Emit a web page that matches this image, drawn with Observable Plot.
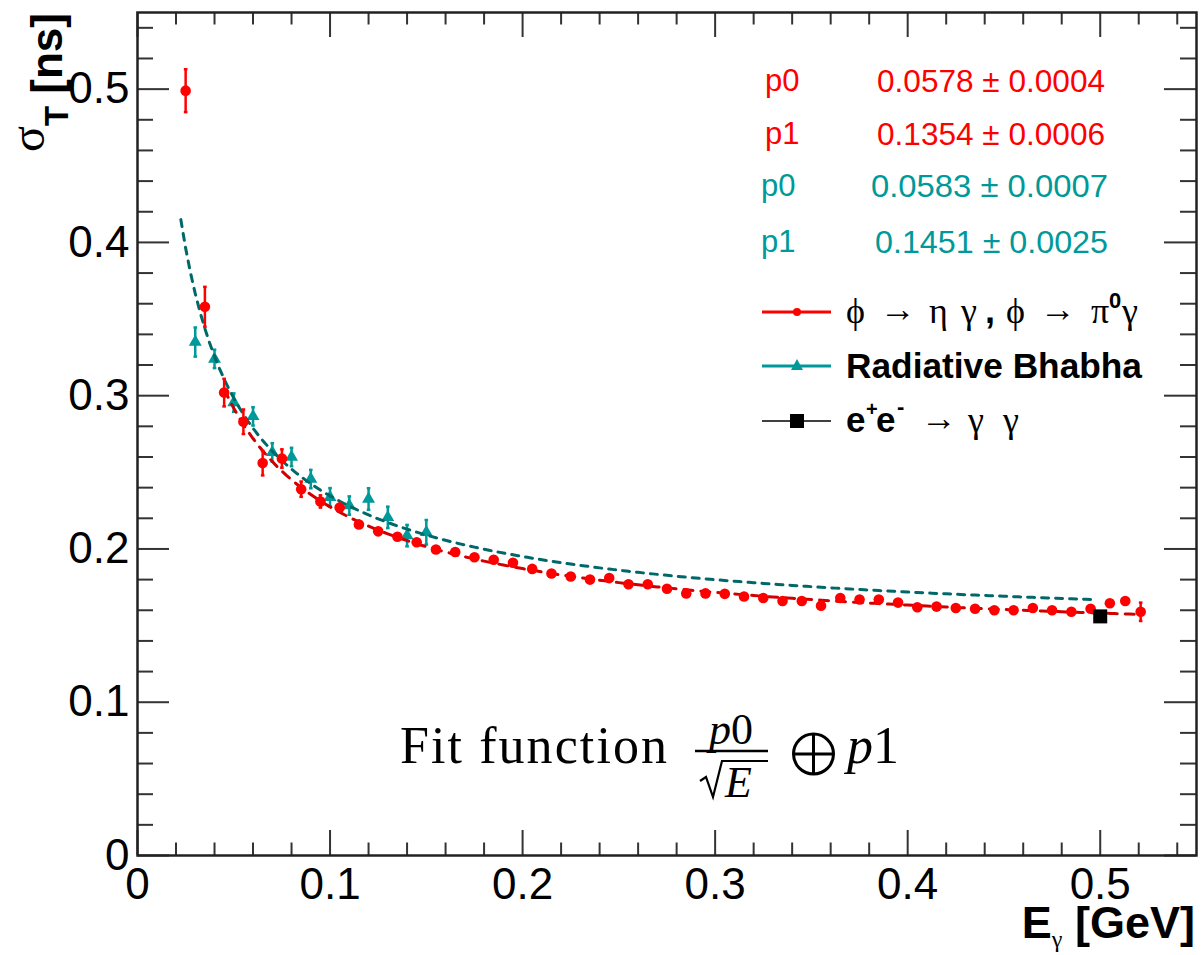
<!DOCTYPE html>
<html><head><meta charset="utf-8">
<script src="https://cdn.jsdelivr.net/npm/d3@7"></script>
<script src="https://cdn.jsdelivr.net/npm/@observablehq/plot@0.6"></script>
<style>
body{margin:0;background:#fff;}
#wrap{position:relative;width:1204px;height:955px;}
#wrap svg{position:absolute;left:0;top:0;}
</style></head><body><div id="wrap"></div>
<script>
// ---- data ----
const redE = [0.025,0.035,0.045,0.055,0.065,0.075,0.085,0.095,0.105,0.115,0.125,0.135,0.145,0.155,0.165,0.175,0.185,0.195,0.205,0.215,0.225,0.235,0.245,0.255,0.265,0.275,0.285,0.295,0.305,0.315,0.325,0.335,0.345,0.355,0.365,0.375,0.385,0.395,0.405,0.415,0.425,0.435,0.445,0.455,0.465,0.475,0.485,0.495,0.505,0.513,0.521];
const redSigma = [0.499,0.358,0.302,0.283,0.256,0.259,0.239,0.231,0.227,0.216,0.2115,0.208,0.2044,0.1996,0.198,0.1946,0.193,0.191,0.187,0.184,0.182,0.180,0.181,0.177,0.177,0.174,0.171,0.171,0.1707,0.169,0.168,0.166,0.166,0.163,0.168,0.167,0.167,0.165,0.162,0.1624,0.1615,0.161,0.160,0.160,0.1615,0.160,0.159,0.161,0.1646,0.166,0.159];
const redErr = [0.014,0.013,0.009,0.008,0.008,0.006,0.005,0.004,0.003,0.003,0.002,0.002,0.002,0.002,0.002,0.002,0.002,0.002,0.002,0.002,0.002,0.002,0.002,0.002,0.002,0.002,0.002,0.002,0.002,0.002,0.002,0.002,0.002,0.002,0.002,0.002,0.002,0.002,0.002,0.002,0.002,0.002,0.002,0.002,0.002,0.002,0.002,0.002,0.002,0.002,0.006];
const tealE = [0.03,0.04,0.05,0.06,0.07,0.08,0.09,0.10,0.11,0.12,0.13,0.14,0.15];
const tealSigma = [0.335,0.324,0.2955,0.2865,0.263,0.26,0.2456,0.2337,0.2283,0.2326,0.2206,0.2087,0.2109];
const tealErr = [0.0095,0.006,0.006,0.006,0.006,0.006,0.006,0.006,0.006,0.007,0.007,0.007,0.008];
const ggE = [0.5];
const ggSigma = [0.156];
// fit parameters (from the chart's box)
const redP0 = 0.0578, redP1 = 0.1354;
const tealP0 = 0.0583, tealP1 = 0.1451;
const redFitRange = [0.045, 0.52];
const tealFitRange = [0.0225, 0.495];
// axis ticks
const xTicks = [0, 0.1, 0.2, 0.3, 0.4, 0.5];
const yTicks = [0, 0.1, 0.2, 0.3, 0.4, 0.5];
const minorTicks = [0.02,0.04,0.06,0.08,0.12,0.14,0.16,0.18,0.22,0.24,0.26,0.28,0.32,0.34,0.36,0.38,0.42,0.44,0.46,0.48,0.52,0.54];

// ---- layout ----
const W = 1204, H = 955;
const mL = 137, mR = 8, mT = 12, mB = 100;
const fw = W - mL - mR, fh = H - mT - mB;
const RED = "#ff0000", TEAL = "#009999", TEALFIT = "#006868", REDFIT = "#d00000";

const red = redE.map((E, i) => ({E, s: redSigma[i], e: redErr[i]}));
const teal = tealE.map((E, i) => ({E, s: tealSigma[i], e: tealErr[i]}));
const gg = ggE.map((E, i) => ({E, s: ggSigma[i]}));
function fitCurve(p0, p1, [a, b]) {
  const pts = d3.range(a, b, 0.0025).concat([b]);
  return pts.map(E => ({E, s: Math.hypot(p0 / Math.sqrt(E), p1)}));
}
const redFit = fitCurve(redP0, redP1, redFitRange);
const tealFit = fitCurve(tealP0, tealP1, tealFitRange);

const cap = {draw(ctx, size) { const r = Math.sqrt(size / Math.PI); ctx.moveTo(-r, 0); ctx.lineTo(r, 0); }};
const fmt = d => d === 0 ? "0" : d.toFixed(1);
const TK = "#333";

const plot = Plot.plot({
  width: W, height: H,
  marginLeft: mL, marginRight: mR, marginTop: mT, marginBottom: mB,
  style: {fontFamily: "'Liberation Sans', Arial, Helvetica, sans-serif", background: "white", color: "black"},
  x: {domain: [0, 0.55], label: null},
  y: {domain: [0, 0.55], label: null},
  marks: [
    Plot.axisX({ticks: xTicks, tickSize: 0, tickPadding: 12, fontSize: 44, tickFormat: fmt, label: null, fill: "black"}),
    Plot.axisY({ticks: yTicks, tickSize: 0, tickPadding: 8, fontSize: 44, tickFormat: fmt, label: null, fill: "black"}),
    // inward ticks, ROOT style, on all four sides
    Plot.tickX(xTicks, {x: d => d, insetTop: fh - 25, stroke: TK, strokeWidth: 2}),
    Plot.tickX(xTicks, {x: d => d, insetBottom: fh - 25, stroke: TK, strokeWidth: 2}),
    Plot.tickX(minorTicks, {x: d => d, insetTop: fh - 12.5, stroke: TK, strokeWidth: 2}),
    Plot.tickX(minorTicks, {x: d => d, insetBottom: fh - 12.5, stroke: TK, strokeWidth: 2}),
    Plot.tickY(yTicks, {y: d => d, insetRight: fw - 32, stroke: TK, strokeWidth: 2}),
    Plot.tickY(yTicks, {y: d => d, insetLeft: fw - 32, stroke: TK, strokeWidth: 2}),
    Plot.tickY(minorTicks, {y: d => d, insetRight: fw - 16, stroke: TK, strokeWidth: 2}),
    Plot.tickY(minorTicks, {y: d => d, insetLeft: fw - 16, stroke: TK, strokeWidth: 2}),
    Plot.frame({stroke: "#222", strokeWidth: 2.5}),
    // radiative Bhabha
    Plot.ruleX(teal, {x: "E", y1: d => d.s - d.e, y2: d => d.s + d.e, stroke: TEAL, strokeWidth: 2.5}),
    Plot.dot(teal, {x: "E", y: d => d.s - d.e, symbol: cap, r: 1.8, stroke: TEAL, strokeWidth: 2.5}),
    Plot.dot(teal, {x: "E", y: d => d.s + d.e, symbol: cap, r: 1.8, stroke: TEAL, strokeWidth: 2.5}),
    Plot.dot(teal, {x: "E", y: "s", symbol: "triangle", r: 4.8, fill: TEAL}),
    // fits
    Plot.line(tealFit, {x: "E", y: "s", stroke: TEALFIT, strokeWidth: 3, strokeDasharray: "7,7"}),
    Plot.line(redFit, {x: "E", y: "s", stroke: REDFIT, strokeWidth: 3, strokeDasharray: "9,8"}),
    // phi radiative decays
    Plot.ruleX(red, {x: "E", y1: d => d.s - d.e, y2: d => d.s + d.e, stroke: RED, strokeWidth: 2.5}),
    Plot.dot(red.filter(d => d.e > 0.003), {x: "E", y: d => d.s - d.e, symbol: cap, r: 1.8, stroke: RED, strokeWidth: 2.5}),
    Plot.dot(red.filter(d => d.e > 0.003), {x: "E", y: d => d.s + d.e, symbol: cap, r: 1.8, stroke: RED, strokeWidth: 2.5}),
    Plot.dot(red, {x: "E", y: "s", r: 5.3, fill: RED}),
    // e+e- -> gamma gamma
    Plot.dot(gg, {x: "E", y: "s", symbol: "square", r: 7.9, fill: "black"})
  ]
});
const wrap = document.getElementById("wrap");
wrap.appendChild(plot);

// ---- annotations overlay ----
const SANS = "'Liberation Sans', Arial, Helvetica, sans-serif";
const SERIF = "'Liberation Serif', 'DejaVu Serif', 'Times New Roman', serif";
const ov = `
<svg xmlns="http://www.w3.org/2000/svg" width="${W}" height="${H}" font-family="${SANS}">
  <!-- axis titles -->
  <text transform="translate(62,13) rotate(-90)" text-anchor="end" font-weight="bold" font-size="44" fill="black"><tspan font-family="${SERIF}" font-weight="normal" font-size="48" dy="-18">σ</tspan><tspan font-size="33" dy="24">T</tspan><tspan dy="-6"> [ns]</tspan></text>
  <text x="1195" y="938" text-anchor="end" font-weight="bold" font-size="45" fill="black">E<tspan font-family="${SERIF}" font-weight="normal" font-size="24" dy="9">γ</tspan><tspan dy="-9"> [GeV]</tspan></text>

  <!-- fit parameters -->
  <g font-size="31">
    <text x="765" y="91" fill="${RED}">p0</text>
    <text x="877" y="92" fill="${RED}" textLength="228" lengthAdjust="spacingAndGlyphs">${(redP0).toFixed(4)} ± 0.0004</text>
    <text x="765" y="144" fill="${RED}">p1</text>
    <text x="877" y="145" fill="${RED}" textLength="228" lengthAdjust="spacingAndGlyphs">${(redP1).toFixed(4)} ± 0.0006</text>
    <text x="761" y="196" fill="${TEAL}">p0</text>
    <text x="871" y="197" fill="${TEAL}" textLength="237" lengthAdjust="spacingAndGlyphs">${(tealP0).toFixed(4)} ± 0.0007</text>
    <text x="761" y="252" fill="${TEAL}">p1</text>
    <text x="875" y="253" fill="${TEAL}" textLength="233" lengthAdjust="spacingAndGlyphs">${(tealP1).toFixed(4)} ± 0.0025</text>
  </g>

  <!-- legend -->
  <line x1="762" x2="831" y1="312" y2="312" stroke="${RED}" stroke-width="3"/>
  <circle cx="797" cy="312" r="4" fill="${RED}"/>
  <line x1="762" x2="831" y1="366" y2="366" stroke="${TEAL}" stroke-width="3"/>
  <path d="M797,359 L803,370 L791,370 Z" fill="${TEAL}"/>
  <line x1="762" x2="831" y1="421" y2="421" stroke="black" stroke-width="1.5"/>
  <rect x="790" y="414" width="14" height="14" fill="black"/>

  <g font-family="${SERIF}" font-size="36" fill="black">
    <text x="846" y="323">ϕ</text>
    <text x="880" y="321">→</text>
    <text x="929" y="323">η</text>
    <text x="961" y="323">γ</text>
    <text x="985" y="323" font-family="${SANS}" font-weight="bold">,</text>
    <text x="1006" y="323">ϕ</text>
    <text x="1040" y="321">→</text>
    <text x="1091" y="323">π</text>
    <text x="1109" y="308" font-family="${SANS}" font-weight="bold" font-size="22">0</text>
    <text x="1122" y="323">γ</text>
  </g>
  <text x="846" y="378" font-weight="bold" font-size="35" fill="black" textLength="296" lengthAdjust="spacingAndGlyphs">Radiative Bhabha</text>
  <g fill="black">
    <text x="846" y="432" font-weight="bold" font-size="35">e</text>
    <text x="866" y="416" font-weight="bold" font-size="20">+</text>
    <text x="876" y="432" font-weight="bold" font-size="35">e</text>
    <text x="897" y="414" font-weight="bold" font-size="22">-</text>
    <text x="921" y="430" font-family="${SERIF}" font-size="36">→</text>
    <text x="968" y="432" font-family="${SERIF}" font-size="36">γ</text>
    <text x="1003" y="432" font-family="${SERIF}" font-size="36">γ</text>
  </g>

  <!-- fit function -->
  <g font-family="${SERIF}" fill="black">
    <text x="400" y="763" font-size="52" textLength="267" lengthAdjust="spacing">Fit function</text>
    <text x="731" y="744" font-size="44" text-anchor="middle"><tspan font-style="italic">p</tspan>0</text>
    <line x1="695" x2="768" y1="751" y2="751" stroke="black" stroke-width="2.5"/>
    <path d="M700,781 L706,777 L713,797 L722,761 L768,761" fill="none" stroke="black" stroke-width="2.2"/>
    <text x="725" y="797" font-size="44" font-style="italic">E</text>
    <circle cx="813.5" cy="754" r="20" fill="none" stroke="black" stroke-width="3"/>
    <line x1="813.5" x2="813.5" y1="734" y2="774" stroke="black" stroke-width="3"/>
    <line x1="793.5" x2="833.5" y1="754" y2="754" stroke="black" stroke-width="3"/>
    <text x="847" y="763" font-size="52"><tspan font-style="italic">p</tspan>1</text>
  </g>
</svg>`;
const holder = document.createElement("div");
holder.innerHTML = ov;
const ovSvg = holder.firstElementChild;
ovSvg.style.pointerEvents = "none";
wrap.appendChild(ovSvg);
</script></body></html>
